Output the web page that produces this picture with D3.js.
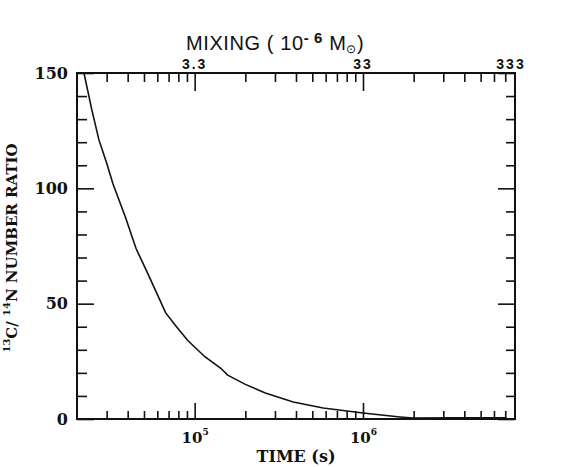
<!DOCTYPE html>
<html>
<head>
<meta charset="utf-8">
<script src="https://cdn.jsdelivr.net/npm/d3@7"></script>
<style>
  body { margin: 0; background: #fff; }
  svg { display: block; }
</style>
</head>
<body>
<svg width="570" height="467"></svg>
<script>
// time (s) vs 13C/14N number ratio
const times = [2.2e4, 2.45e4, 2.7e4, 3.0e4, 3.27e4, 3.9e4, 4.48e4, 5.27e4, 6.73e4, 7.8e4, 9.1e4,
               1.15e5, 1.43e5, 1.57e5, 2.0e5, 2.63e5, 3.85e5, 5.8e5, 1.0e6, 1.66e6, 1.98e6,
               3.5e6, 7.1e6];
const ratios = [150, 134, 121, 111, 102, 87, 74, 63, 46, 40, 34,
                27, 22, 19, 15, 11.3, 7.4, 4.8, 2.6, 0.9, 0.4,
                0.5, 0.5];

const yMajor = [0, 50, 100, 150];
const yMinor = [10, 20, 30, 40, 60, 70, 80, 90, 110, 120, 130, 140];
const tMajor = [1e5, 1e6];
const tMinor = [3e4, 4e4, 5e4, 6e4, 7e4, 8e4, 9e4, 2e5, 3e5, 4e5, 5e5, 6e5, 7e5, 8e5, 9e5,
                2e6, 3e6, 4e6, 5e6, 6e6, 7e6];
const tExp = [5, 6];
const mixLabels = ["3.3", "33", "333"];

const svg = d3.select("svg");
const pLeft = 77, pRight = 515, pTop = 73, pBottom = 419;

const x = d3.scaleLog().domain([2e4, 8e6]).range([pLeft, pRight]);
const y = d3.scaleLinear().domain([0, 150]).range([pBottom, pTop]);

const serif = "'DejaVu Serif', 'Liberation Serif', serif";
const sans = "'Liberation Sans', Arial, sans-serif";

function styleAxis(g) {
    g.select(".domain").remove();
    g.selectAll("line").attr("stroke", "#111").attr("stroke-width", 1.6);
}

// bottom axis
svg.append("g").attr("transform", `translate(0,${pBottom})`)
    .call(d3.axisBottom(x).tickValues(tMinor).tickSize(-8).tickFormat(""))
    .call(styleAxis);
const bMaj = svg.append("g").attr("transform", `translate(0,${pBottom})`)
    .call(d3.axisBottom(x).tickValues(tMajor).tickSize(-16).tickPadding(13).tickFormat(""))
    .call(styleAxis);
bMaj.selectAll("text")
    .attr("font-family", serif).attr("font-size", 15).attr("font-weight", "bold").attr("fill", "#111")
    .each(function(d, i) {
        const t = d3.select(this).text("10");
        t.append("tspan").attr("dy", -8).attr("font-size", 9).text(tExp[i]);
    });

// top axis
svg.append("g").attr("transform", `translate(0,${pTop})`)
    .call(d3.axisTop(x).tickValues(tMinor).tickSize(-9).tickFormat(""))
    .call(styleAxis);
svg.append("g").attr("transform", `translate(0,${pTop})`)
    .call(d3.axisTop(x).tickValues(tMajor).tickSize(-18).tickFormat(""))
    .call(styleAxis);
const mixPos = [x(1e5), x(1e6), x.range()[1] - 4];
svg.append("g").selectAll("text").data(mixLabels).join("text")
    .attr("x", (d, i) => mixPos[i]).attr("y", pTop - 4)
    .attr("text-anchor", "middle")
    .attr("font-family", sans).attr("font-size", 14).attr("font-weight", "bold")
    .attr("letter-spacing", 2).attr("fill", "#111")
    .text(d => d);

// left axis
svg.append("g").attr("transform", `translate(${pLeft},0)`)
    .call(d3.axisLeft(y).tickValues(yMinor).tickSize(-10).tickFormat(""))
    .call(styleAxis);
svg.append("g").attr("transform", `translate(${pLeft},0)`)
    .call(d3.axisLeft(y).tickValues(yMajor).tickSize(-17).tickPadding(9))
    .call(styleAxis)
    .selectAll("text")
    .attr("font-family", serif).attr("font-size", 16).attr("font-weight", "bold").attr("fill", "#111");

// right axis
svg.append("g").attr("transform", `translate(${pRight},0)`)
    .call(d3.axisRight(y).tickValues(yMinor).tickSize(-9).tickFormat(""))
    .call(styleAxis);
svg.append("g").attr("transform", `translate(${pRight},0)`)
    .call(d3.axisRight(y).tickValues(yMajor).tickSize(-17).tickFormat(""))
    .call(styleAxis);

// frame
svg.append("rect")
    .attr("x", pLeft).attr("y", pTop)
    .attr("width", pRight - pLeft).attr("height", pBottom - pTop)
    .attr("fill", "none").attr("stroke", "#111").attr("stroke-width", 2);

// curve
svg.append("defs").append("clipPath").attr("id", "clip")
    .append("rect").attr("x", pLeft).attr("y", pTop)
    .attr("width", pRight - pLeft).attr("height", pBottom - pTop);

const line = d3.line()
    .x((d, i) => x(times[i]))
    .y(d => y(d));

svg.append("path")
    .datum(ratios)
    .attr("clip-path", "url(#clip)")
    .attr("d", line)
    .attr("fill", "none")
    .attr("stroke", "#111")
    .attr("stroke-width", 1.6);

// titles
svg.append("text")
    .attr("x", (pLeft + pRight) / 2).attr("y", 462)
    .attr("text-anchor", "middle")
    .attr("font-family", serif).attr("font-size", 16).attr("font-weight", "bold").attr("fill", "#111")
    .text("TIME (s)");

const mix = svg.append("text")
    .attr("x", 186).attr("y", 50)
    .attr("font-family", sans).attr("font-size", 20).attr("letter-spacing", 0.6).attr("fill", "#111");
mix.append("tspan").text("MIXING ( 10");
mix.append("tspan").attr("dy", -7).attr("font-size", 15).attr("font-weight", "bold").text("- 6");
mix.append("tspan").attr("dy", 7).text(" M");
mix.append("tspan").attr("dy", 3).attr("font-size", 12).text("\u2299");
mix.append("tspan").attr("dy", -3).text(")");

const yl = svg.append("text")
    .attr("transform", "translate(17,248) rotate(-90)")
    .attr("text-anchor", "middle")
    .attr("font-family", serif).attr("font-size", 15).attr("font-weight", "bold").attr("fill", "#111");
yl.append("tspan").attr("dy", -7).attr("font-size", 10).text("13");
yl.append("tspan").attr("dy", 7).text("C/ ");
yl.append("tspan").attr("dy", -7).attr("font-size", 10).text("14");
yl.append("tspan").attr("dy", 7).text("N NUMBER RATIO");
</script>
</body>
</html>
